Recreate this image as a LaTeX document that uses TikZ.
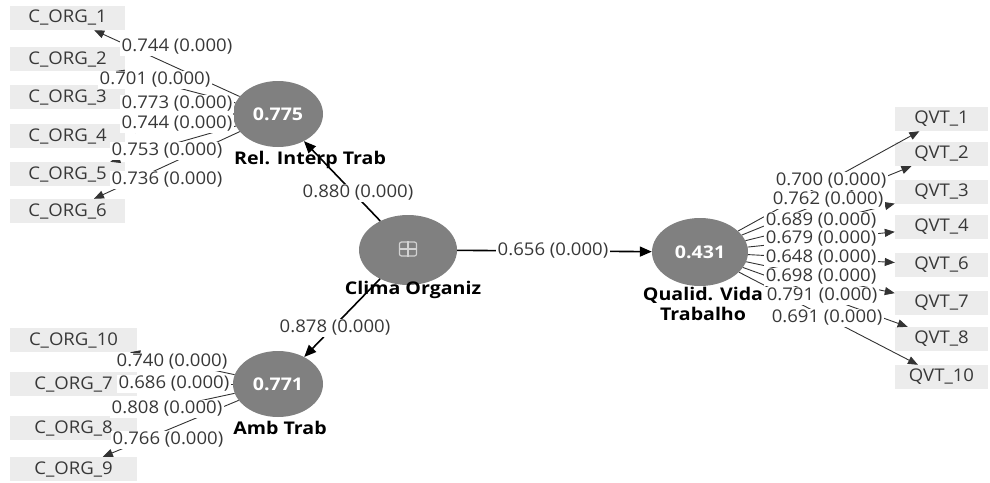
\documentclass[tikz,border=0pt]{standalone}
\usepackage{fontspec}
\setmainfont{Open Sans}[FakeStretch=1.06]
\newfontfamily\widebold{Open Sans}[FakeStretch=1.12]
\usetikzlibrary{shapes.geometric,arrows.meta}
\definecolor{lvgray}{RGB}{128,128,128}
\definecolor{boxgray}{RGB}{236,236,236}
\definecolor{txtgray}{RGB}{56,56,56}
\begin{document}
\begin{tikzpicture}[x=1pt,y=-1pt,
  every node/.style={font=\fontsize{17.5}{20}\selectfont},
  ind/.style={fill=boxgray, minimum height=24pt, text=txtgray, inner sep=0pt},
  lv/.style={ellipse, fill=lvgray, minimum width=90pt, minimum height=66pt, inner sep=0pt, text=white, font=\widebold\bfseries\fontsize{17.5}{20}\selectfont},
  lbl/.style={fill=white, inner sep=1.5pt, text=txtgray},
  lvname/.style={font=\widebold\bfseries\fontsize{17.5}{20}\selectfont, text=black, align=center, inner sep=0pt},
  load/.style={draw=black!80, line width=0.9pt, -{Triangle[length=10pt,width=8pt]}},
  struct/.style={draw=black, line width=1.6pt, -{Triangle[length=12pt,width=10pt]}}]
\useasboundingbox (0,0) rectangle (990,482);
% indicator boxes
\node[ind, minimum width=115pt] (c1) at (67.5,18) {C\_ORG\_1};
\node[ind, minimum width=115pt] (c2) at (67.5,59) {C\_ORG\_2};
\node[ind, minimum width=115pt] (c3) at (67.5,97) {C\_ORG\_3};
\node[ind, minimum width=115pt] (c4) at (67.5,136) {C\_ORG\_4};
\node[ind, minimum width=115pt] (c5) at (67.5,174) {C\_ORG\_5};
\node[ind, minimum width=115pt] (c6) at (67.5,211) {C\_ORG\_6};
\node[ind, minimum width=127pt] (c10) at (73.5,340) {C\_ORG\_10};
\node[ind, minimum width=127pt] (c7) at (73.5,384) {C\_ORG\_7};
\node[ind, minimum width=127pt] (c8) at (73.5,428) {C\_ORG\_8};
\node[ind, minimum width=127pt] (c9) at (73.5,469) {C\_ORG\_9};
\node[ind, minimum width=93pt] (q1) at (941.5,119) {QVT\_1};
\node[ind, minimum width=93pt] (q2) at (941.5,154) {QVT\_2};
\node[ind, minimum width=93pt] (q3) at (941.5,192) {QVT\_3};
\node[ind, minimum width=93pt] (q4) at (941.5,227) {QVT\_4};
\node[ind, minimum width=93pt] (q6) at (941.5,265) {QVT\_6};
\node[ind, minimum width=93pt] (q7) at (941.5,303) {QVT\_7};
\node[ind, minimum width=93pt] (q8) at (941.5,339) {QVT\_8};
\node[ind, minimum width=93pt] (q10) at (941.5,377) {QVT\_10};
% latent variables
\node[lv] (rel) at (278,114) {0.775};
\node[lv, minimum width=98pt, minimum height=70pt] (clima) at (408,250) {};
\node[lv, minimum width=96pt, minimum height=68pt] (qvt) at (700,252) {0.431};
\node[lv] (amb) at (278,384) {0.771};
\node[draw=gray!35, rounded corners=2pt, minimum width=17pt, minimum height=14pt, line width=1.2pt, inner sep=0pt] (icon) at (408,249) {};
\draw[gray!35, line width=1.2pt] (icon.north) -- (icon.south) (icon.west) -- (icon.east);
% names
\node[lvname] (nrel) at (310,160) {Rel. Interp Trab};
\node[lvname] (nclima) at (413,290) {Clima Organiz};
\node[lvname] (namb) at (280,428) {Amb Trab};
\node[lvname] (nqvt) at (703,304) {Qualid. Vida\\Trabalho};
% structural paths
\draw[struct] (clima) -- (rel);
\draw[struct] (clima) -- (amb);
\draw[struct] (clima) -- (qvt);
% loadings
\foreach \c in {c1,c2,c3,c4,c5,c6} \draw[load] (rel) -- (\c);
\foreach \c in {c10,c7,c8,c9} \draw[load] (amb) -- (\c);
\foreach \q in {q1,q2,q3,q4,q6,q7,q8,q10} \draw[load] (qvt) -- (\q);
% path labels
\node[lbl] (p1) at (358,193) {0.880 (0.000)};
\node[lbl] (p2) at (335,328) {0.878 (0.000)};
\node[lbl] (p3) at (553,251) {0.656 (0.000)};
% loading labels
\node[lbl] (l1) at (177,47) {0.744 (0.000)};
\node[lbl] (l2) at (155,80) {0.701 (0.000)};
\node[lbl] (l3) at (177,104) {0.773 (0.000)};
\node[lbl] (l4) at (177,124) {0.744 (0.000)};
\node[lbl] (l5) at (167,151) {0.753 (0.000)};
\node[lbl] (l6) at (167,180) {0.736 (0.000)};
\node[lbl] (l10) at (172,362) {0.740 (0.000)};
\node[lbl] (l7) at (174,384) {0.686 (0.000)};
\node[lbl] (l8) at (167,409) {0.808 (0.000)};
\node[lbl] (l9) at (168,440) {0.766 (0.000)};
\node[lbl] (m1) at (831,181) {0.700 (0.000)};
\node[lbl] (m2) at (828,200) {0.762 (0.000)};
\node[lbl] (m3) at (821,221) {0.689 (0.000)};
\node[lbl] (m4) at (821,239) {0.679 (0.000)};
\node[lbl] (m6) at (821,258) {0.648 (0.000)};
\node[lbl] (m7) at (821,277) {0.698 (0.000)};
\node[lbl] (m8) at (822,296) {0.791 (0.000)};
\node[lbl] (m10) at (827,318) {0.691 (0.000)};
\end{tikzpicture}
\end{document}
